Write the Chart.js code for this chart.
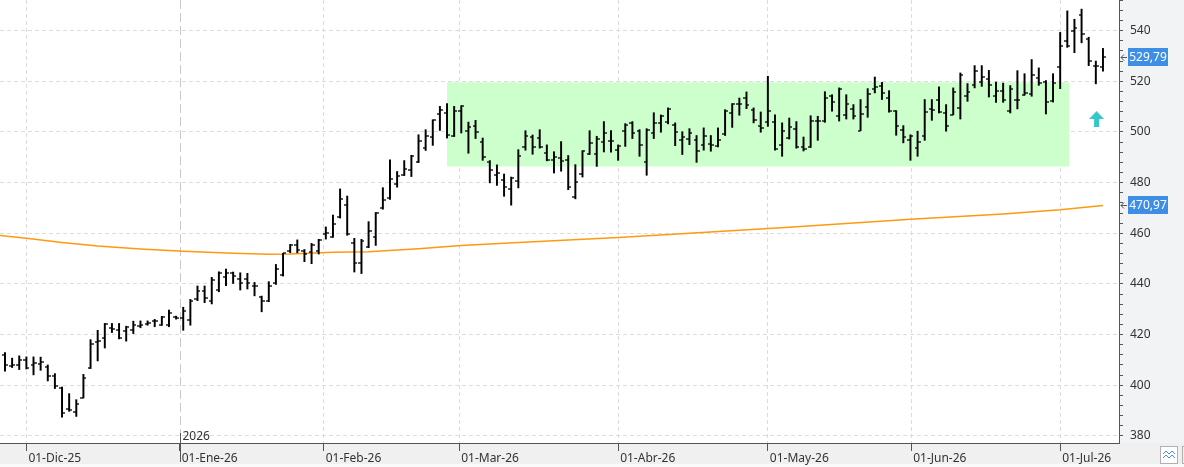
<!DOCTYPE html>
<html lang="es">
<head>
<meta charset="UTF-8">
<title>Gráfico diario con media móvil</title>
<style>
  html, body { margin: 0; padding: 0; background: #fff; }
  #grafico { display: block; }
</style>
</head>
<body>
<canvas id="grafico" width="1184" height="467"></canvas>
<script src="https://cdn.jsdelivr.net/npm/chart.js@4/dist/chart.umd.min.js"></script>
<script>
// ---- datos diarios (una barra por sesión) ----
const opens = [
  411.8, 407.5, 407.9, 410.0, 407.9, 408.2, 407.4, 403.7, 399.1, 390.7,
  389.4, 395.1, 406.7, 417.1, 418.6, 422.8, 421.7, 421.3, 421.7, 423.5,
  424.2, 425.2, 423.9, 423.9, 427.0, 426.4, 425.7, 433.9, 437.2, 433.4,
  437.8, 442.6, 444.2, 441.8, 442.0, 439.3, 434.9, 433.2, 440.2, 443.5,
  452.9, 455.4, 453.1, 452.7, 453.0, 459.7, 458.5, 466.3, 471.2, 456.0,
  448.4, 454.7, 458.7, 469.9, 474.1, 479.4, 483.1, 485.0, 488.2, 493.6,
  498.0, 507.1, 507.5, 498.5, 508.4, 500.2, 502.2, 496.2, 488.2, 483.0,
  481.1, 477.5, 480.7, 494.1, 498.0, 497.8, 491.7, 489.1, 489.7, 489.1,
  474.3, 483.3, 491.4, 491.3, 496.1, 496.6, 493.0, 500.5, 503.6, 500.4,
  488.0, 499.6, 503.6, 504.1, 502.8, 497.0, 497.2, 497.0, 494.9, 495.4,
  494.6, 499.3, 507.5, 511.1, 513.4, 508.8, 502.5, 503.8, 503.8, 494.9,
  497.6, 501.2, 494.1, 494.1, 504.3, 504.2, 514.1, 506.2, 506.7, 509.1,
  500.5, 509.9, 517.1, 518.3, 513.4, 508.2, 500.7, 496.7, 493.7, 498.6,
  509.1, 512.8, 507.5, 506.8, 509.5, 514.2, 518.6, 519.7, 520.9, 514.3,
  516.2, 508.4, 512.8, 514.7, 515.1, 521.3, 519.6, 512.4, 525.5, 535.8,
  540.0, 546.0, 536.6, 526.0, 525.5
];
const highs = [
  412.9, 410.7, 411.6, 411.2, 411.2, 411.1, 408.0, 404.6, 399.3, 396.7,
  394.3, 404.3, 418.0, 421.7, 424.4, 424.4, 424.4, 423.3, 425.3, 425.4,
  425.4, 426.0, 427.2, 429.7, 427.3, 430.8, 433.9, 439.2, 439.2, 442.6,
  444.8, 445.9, 444.7, 444.4, 444.2, 440.6, 435.2, 440.9, 447.7, 452.1,
  455.6, 457.4, 453.6, 456.0, 457.6, 462.5, 467.2, 477.5, 474.7, 458.0,
  457.6, 464.6, 468.2, 478.0, 489.0, 484.4, 488.7, 490.8, 498.9, 500.9,
  504.8, 510.1, 511.2, 510.1, 510.4, 503.9, 504.6, 497.6, 488.7, 487.0,
  483.4, 482.2, 493.0, 500.5, 498.8, 500.9, 494.9, 492.2, 496.2, 490.7,
  487.1, 492.6, 500.5, 498.3, 504.1, 500.5, 494.9, 503.3, 504.1, 500.9,
  501.3, 507.6, 506.7, 509.5, 503.6, 500.1, 501.3, 498.6, 501.6, 498.6,
  501.6, 508.8, 511.2, 513.4, 515.8, 509.5, 507.9, 522.0, 506.8, 503.6,
  505.5, 504.1, 498.0, 506.4, 506.2, 515.9, 514.7, 517.4, 514.7, 510.8,
  512.8, 517.1, 521.7, 519.6, 516.3, 508.4, 502.5, 498.9, 500.3, 512.8,
  512.8, 517.8, 510.8, 517.4, 523.3, 519.1, 526.2, 526.2, 524.3, 519.7,
  519.3, 518.3, 524.2, 523.0, 528.6, 525.3, 520.3, 523.0, 539.3, 547.8,
  544.5, 548.5, 537.4, 528.0, 533.0
];
const lows = [
  405.6, 407.0, 406.2, 406.4, 404.1, 405.9, 401.7, 398.7, 387.4, 389.7,
  387.7, 395.0, 406.6, 409.6, 414.7, 420.8, 418.3, 417.4, 420.4, 422.7,
  423.7, 423.1, 423.6, 423.1, 426.1, 421.7, 423.7, 433.4, 432.6, 432.1,
  436.9, 439.3, 440.2, 437.6, 438.0, 435.3, 429.0, 433.0, 439.8, 443.1,
  452.3, 452.3, 448.8, 448.0, 451.8, 457.7, 458.4, 466.0, 459.2, 444.7,
  444.1, 454.3, 455.2, 469.5, 473.4, 478.2, 482.8, 482.4, 487.9, 492.7,
  494.7, 500.6, 497.6, 498.2, 499.6, 491.6, 497.4, 488.8, 479.9, 478.9,
  474.6, 471.1, 477.9, 492.8, 491.2, 493.6, 488.6, 483.8, 484.5, 477.2,
  473.6, 482.2, 491.1, 486.4, 492.1, 492.0, 488.8, 494.3, 497.4, 490.4,
  482.9, 497.4, 499.9, 503.2, 494.6, 491.1, 495.0, 488.0, 492.8, 492.4,
  494.1, 498.6, 501.8, 506.6, 509.2, 503.6, 499.9, 502.2, 492.8, 490.4,
  497.2, 493.6, 492.5, 493.9, 496.7, 503.8, 508.2, 504.3, 505.1, 505.1,
  500.5, 505.8, 515.4, 512.8, 507.8, 498.7, 495.7, 488.8, 490.4, 496.7,
  504.6, 507.5, 500.3, 506.8, 505.1, 512.1, 517.4, 518.0, 513.8, 511.7,
  511.7, 507.5, 509.1, 514.5, 514.1, 518.4, 507.1, 511.8, 517.1, 533.4,
  531.3, 535.2, 526.2, 519.0, 524.0
];
const closes = [
  407.9, 407.9, 410.1, 407.0, 408.8, 409.1, 403.5, 399.7, 389.2, 390.3,
  392.5, 403.0, 416.2, 417.3, 424.0, 422.4, 418.8, 423.1, 423.7, 423.6,
  424.6, 425.4, 426.8, 428.4, 426.5, 429.4, 433.4, 437.2, 434.3, 441.5,
  444.2, 444.2, 443.1, 440.2, 440.5, 439.2, 433.2, 439.3, 445.8, 452.1,
  455.5, 453.4, 451.8, 455.4, 457.2, 460.2, 463.7, 473.6, 459.6, 448.4,
  456.9, 460.9, 467.9, 473.2, 481.3, 482.7, 485.3, 490.6, 496.6, 498.5,
  504.6, 508.8, 498.9, 508.4, 510.1, 502.1, 499.8, 490.1, 485.1, 483.8,
  478.3, 482.0, 490.7, 498.6, 494.1, 494.1, 489.1, 490.1, 488.7, 478.2,
  480.3, 492.6, 495.7, 497.4, 499.7, 496.3, 494.3, 502.8, 499.6, 494.9,
  500.9, 503.6, 506.2, 509.1, 500.0, 498.0, 499.7, 492.6, 498.3, 495.0,
  497.0, 508.4, 511.1, 511.2, 510.8, 504.9, 501.6, 508.4, 493.3, 500.5,
  502.0, 494.0, 493.4, 504.5, 504.3, 513.4, 511.8, 517.1, 511.2, 506.2,
  507.1, 515.1, 517.8, 515.4, 508.2, 502.5, 498.0, 498.3, 496.1, 507.9,
  508.8, 507.9, 502.5, 515.8, 522.6, 515.9, 524.1, 521.7, 518.7, 516.2,
  512.5, 517.1, 512.5, 515.4, 522.6, 519.3, 511.7, 519.3, 533.9, 534.0,
  541.0, 538.7, 528.0, 526.0, 529.79
];

// media móvil (puntos leídos sobre la curva naranja)
const mediaX = [-1, 3, 8, 13, 19, 25, 32, 37, 40, 46, 51, 58, 64, 72, 86, 96, 110, 127, 140, 148, 154];
const mediaY = [459.2, 458.0, 456.4, 455.0, 453.8, 452.9, 452.1, 451.7, 451.8, 452.5, 452.7, 453.9, 455.2, 456.4, 458.3, 460.0, 462.4, 465.5, 467.6, 469.3, 470.97];

// zona lateral (rectángulo verde)
const zonaDesde = 62, zonaHasta = 149.3;
const zonaTecho = 519.6, zonaSuelo = 486.4;

// señal (flecha de compra)
const flechaX = [153.1];
const flechaY = [505.1];

// eje temporal
const etiquetasMeses = ['01-Dic-25', '01-Ene-26', '01-Feb-26', '01-Mar-26', '01-Abr-26', '01-May-26', '01-Jun-26', '01-Jul-26'];
const posMeses = [3, 24.5, 44.7, 63.7, 86, 107, 127.1, 148];
const etiquetaAnio = '2026';
const posAnio = 24.5;

// eje de precios
const precioMin = 377.2, precioMax = 552.1;
const etiquetasY = [380, 400, 420, 440, 460, 480, 500, 520, 540];
const pasoMenor = 4;

// ---- estilos ----
const fuente = { family: 'Noto Sans', size: 12 };
const colorTexto = '#333';
const colorEje = '#555';

function marcaCanvas(lado) {
  const c = document.createElement('canvas');
  c.width = 6; c.height = 2;
  const g = c.getContext('2d');
  g.fillStyle = 'rgba(0,0,0,0.65)';
  g.fillRect(lado === 'izq' ? 0 : 3, 0, 3, 2);
  return c;
}

function flechaCanvas() {
  const c = document.createElement('canvas');
  c.width = 15; c.height = 16;
  const g = c.getContext('2d');
  g.fillStyle = '#36c8c8';
  g.beginPath();
  g.moveTo(7.5, 0); g.lineTo(15, 8); g.lineTo(10, 8); g.lineTo(10, 16);
  g.lineTo(5, 16); g.lineTo(5, 8); g.lineTo(0, 8); g.closePath();
  g.fill();
  return c;
}

const idx = closes.map((_, i) => i);
const rangos = idx.map(i => ({ x: i, y: [lows[i], highs[i]] }));
const aperturas = idx.map(i => ({ x: i, y: opens[i] }));
const cierres = idx.map(i => ({ x: i, y: closes[i] }));
const media = mediaX.map((x, i) => ({ x: x, y: mediaY[i] }));
const zona = [{ x: zonaDesde, y: zonaTecho }, { x: zonaHasta, y: zonaTecho }];
const flecha = flechaX.map((x, i) => ({ x: x, y: flechaY[i] }));

// marcas del eje de precios: una cada 4, etiqueta cada 20
const marcasY = [];
for (let v = etiquetasY[0]; v <= precioMax; v += pasoMenor) marcasY.push({ value: v });
const esEtiqueta = v => etiquetasY.includes(v);

const fmt = v => v.toFixed(2).replace('.', ',');
const sinPadding = s => { s.paddingTop = 0; s.paddingBottom = 0; s.paddingLeft = 0; s.paddingRight = 0; };

// fondos, línea de año y etiquetas de último valor
const decorado = {
  id: 'decorado',
  beforeDraw(chart) {
    const { ctx, chartArea: a, width, height } = chart;
    ctx.save();
    ctx.fillStyle = '#f0f0f0';
    ctx.fillRect(0, 0, width, height);
    ctx.fillStyle = '#f2f3f5';
    ctx.fillRect(a.right, 0, width - a.right, a.bottom);
    ctx.fillStyle = '#fafafa';
    ctx.fillRect(0, height - 3, width, 3);
    ctx.fillStyle = '#fff';
    ctx.fillRect(a.left, a.top, a.right - a.left, a.bottom - a.top);
    ctx.restore();
  },
  beforeDatasetsDraw(chart) {
    const { ctx, chartArea: a, scales } = chart;
    const px = Math.round(scales.x.getPixelForValue(posAnio)) + 0.5;
    ctx.save();
    ctx.strokeStyle = '#c8c8c8';
    ctx.lineWidth = 1;
    ctx.setLineDash([9, 4]);
    ctx.beginPath();
    ctx.moveTo(px, a.top);
    ctx.lineTo(px, a.bottom - 10);
    ctx.stroke();
    ctx.restore();
  },
  afterDraw(chart) {
    const { ctx, chartArea: a, scales } = chart;
    const px = Math.round(scales.x.getPixelForValue(posAnio)) + 0.5;
    ctx.save();
    ctx.strokeStyle = colorEje;
    ctx.lineWidth = 1;
    ctx.beginPath();
    ctx.moveTo(px, a.bottom - 10);
    ctx.lineTo(px, a.bottom + 19);
    ctx.stroke();
    ctx.fillStyle = colorTexto;
    ctx.font = '12px "Noto Sans"';
    ctx.textBaseline = 'alphabetic';
    ctx.textAlign = 'left';
    ctx.fillText(etiquetaAnio, px + 2, a.bottom - 3);

    // etiquetas de último valor en el eje
    const etiquetas = [closes[closes.length - 1], mediaY[mediaY.length - 1]];
    etiquetas.forEach(v => {
      const y = Math.round(scales.y.getPixelForValue(v));
      ctx.fillStyle = '#3d8ee4';
      ctx.fillRect(a.right + 9, y - 9, 40, 18);
      ctx.fillStyle = '#fff';
      ctx.textAlign = 'center';
      ctx.textBaseline = 'middle';
      ctx.fillText(fmt(v), a.right + 29, y + 0.5);
      ctx.strokeStyle = colorEje;
      ctx.beginPath();
      ctx.moveTo(a.right + 2, y + 0.5); ctx.lineTo(a.right + 8, y + 0.5);
      ctx.moveTo(a.right + 5, y - 2.5); ctx.lineTo(a.right + 2, y + 0.5); ctx.lineTo(a.right + 5, y + 3.5);
      ctx.stroke();
    });

    // botón de la esquina
    ctx.fillStyle = '#fff';
    ctx.fillRect(1160.5, 446.5, 17, 17);
    ctx.strokeStyle = '#b0b0b0';
    ctx.strokeRect(1160.5, 446.5, 17, 17);
    ctx.strokeRect(1182.5, 446.5, 6, 17);
    ctx.strokeStyle = '#4a90d9';
    ctx.beginPath();
    ctx.moveTo(1163, 454); ctx.lineTo(1166, 451); ctx.lineTo(1169, 454); ctx.lineTo(1172, 451); ctx.lineTo(1175, 454);
    ctx.moveTo(1163, 458); ctx.lineTo(1166, 455); ctx.lineTo(1169, 458); ctx.lineTo(1172, 455); ctx.lineTo(1175, 458);
    ctx.stroke();
    ctx.restore();
  }
};

const ctx = document.getElementById('grafico').getContext('2d');
new Chart(ctx, {
  type: 'bar',
  data: {
    datasets: [
      {
        type: 'line', label: 'Zona', data: zona, order: 10,
        backgroundColor: '#ccffcc', borderColor: 'transparent', borderWidth: 0,
        pointRadius: 0, fill: { value: zonaSuelo }
      },
      {
        type: 'line', label: 'Media', data: media, order: 5,
        borderColor: '#ff9a10', borderWidth: 1.5, pointRadius: 0, tension: 0, fill: false
      },
      {
        type: 'bar', label: 'Rango', data: rangos, order: 3,
        backgroundColor: '#000', borderWidth: 0, barThickness: 1.3
      },
      {
        type: 'line', label: 'Apertura', data: aperturas, order: 1, showLine: false,
        pointStyle: marcaCanvas('izq'), pointRadius: 1
      },
      {
        type: 'line', label: 'Cierre', data: cierres, order: 1, showLine: false,
        pointStyle: marcaCanvas('der'), pointRadius: 1
      },
      {
        type: 'line', label: 'Señal', data: flecha, order: 0, showLine: false,
        pointStyle: flechaCanvas(), pointRadius: 1
      }
    ]
  },
  options: {
    responsive: false,
    animation: false,
    events: [],
    layout: { padding: 0, autoPadding: false },
    plugins: { legend: { display: false }, tooltip: { enabled: false } },
    scales: {
      x: {
        type: 'linear', position: 'bottom', bounds: 'data',
        min: -0.7, max: 156.25, offset: false, z: 1,
        afterBuildTicks: s => { s.ticks = posMeses.map(v => ({ value: v })); },
        afterFit: s => { s.height = 24; sinPadding(s); },
        ticks: {
          autoSkip: false, maxRotation: 0, minRotation: 0, align: 'start',
          labelOffset: 2, padding: 0, color: colorTexto, font: fuente,
          callback: (v, i) => etiquetasMeses[i]
        },
        grid: {
          offset: false,
          color: c => (c.index === 1 ? 'transparent' : '#dcdcdc'),
          tickLength: 8, tickColor: colorEje
        },
        border: { color: colorEje, dash: [4, 3] }
      },
      y: {
        type: 'linear', position: 'right', bounds: 'data',
        min: precioMin, max: precioMax, z: 1,
        afterBuildTicks: s => { s.ticks = marcasY.map(t => ({ value: t.value })); },
        afterFit: s => { s.width = 65; sinPadding(s); },
        ticks: {
          autoSkip: false, padding: 7,
          color: colorTexto, font: fuente,
          callback: v => (esEtiqueta(v) ? String(v) : '')
        },
        grid: {
          color: c => (c.tick && esEtiqueta(c.tick.value) ? '#dcdcdc' : 'transparent'),
          tickLength: 4, tickColor: colorEje
        },
        border: { color: colorEje, dash: [4, 3] }
      }
    }
  },
  plugins: [decorado]
});
</script>
</body>
</html>
